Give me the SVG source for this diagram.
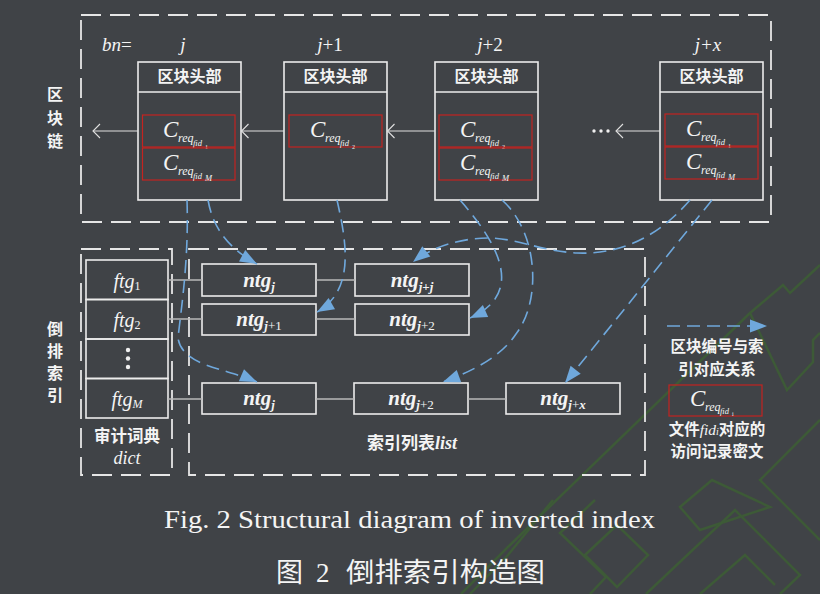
<svg xmlns="http://www.w3.org/2000/svg" width="820" height="594" viewBox="0 0 820 594">
<style>
.bg{fill:#404347}
.deco{fill:none;stroke:#3d5a37;stroke-width:2.5}
.box{fill:none;stroke:#ececec;stroke-width:1.6}
.dash{fill:none;stroke:#e6e6e6;stroke-width:1.8;stroke-dasharray:20 9}
.red{fill:none;stroke:#c42420;stroke-width:1.2}
.link{stroke:#b8b8b8;stroke-width:1.5}
.arr{stroke:#e0e0e0;stroke-width:1.1;fill:none;marker-end:url(#open)}
.blue{fill:none;stroke:#6fa8dc;stroke-width:1.6;stroke-dasharray:13 7;marker-end:url(#tri)}
.cjk{font-family:"Noto Sans CJK SC","Noto Sans",sans-serif;fill:#f4f4f4;font-weight:bold}
.m{font-family:"Liberation Serif","Noto Sans CJK SC",serif;font-style:italic;fill:#f4f4f4}
.up{font-style:normal}
.hd{font-size:16px;text-anchor:middle}
.C{font-size:23px}
.rq{font-size:12px}
.fd{font-size:8.5px}
.fs{font-size:6px;font-style:normal}
.nt{font-size:21px;font-weight:bold;text-anchor:middle}
.ntsub{font-size:13px}
.ft{font-size:20px;text-anchor:middle}
.lg{font-size:15.5px;text-anchor:middle}
.side{font-size:16px;text-anchor:middle}
.cap{font-family:"Liberation Serif","Noto Sans CJK SC",serif;fill:#f4f4f4;font-weight:normal}
</style>
<defs>
<marker id="open" markerUnits="userSpaceOnUse" viewBox="-9 -9 10 18" markerWidth="10" markerHeight="18" refX="0" refY="0" orient="auto" overflow="visible">
<path d="M-7,-7 L0,0 L-7,7" fill="none" stroke="#e0e0e0" stroke-width="1.1"/>
</marker>
<marker id="tri" markerUnits="userSpaceOnUse" viewBox="-17 -8 18 16" markerWidth="18" markerHeight="16" refX="0" refY="0" orient="auto" overflow="visible">
<path d="M-17,-6.5 L0,0 L-17,6.5 Z" fill="#6fa8dc"/>
</marker>
</defs>
<rect class="bg" x="0" y="0" width="820" height="594"/>
<g id="decoration">
<polyline class="deco" points="461,594 510,545 750,313 783,285 790,293 820,265"/>
<polyline class="deco" points="750,313 787,390 813,362 813,340 820,333"/>
<polyline class="deco" points="553,500 508,555 470,594"/>
<polyline class="deco" points="595,500 560,533 606,577 590,594"/>
<polygon class="deco" points="585,555 617,525 648,555 617,587"/>
<polygon class="deco" points="680,507 712,480 770,507 700,530"/>
<polyline class="deco" points="820,420 760,480 820,540"/>
<polyline class="deco" points="646,594 735,510 800,575 780,594"/>
<polyline class="deco" points="700,594 745,555 775,585"/>
</g>
<g id="frames">
<rect class="dash" x="81" y="15" width="690" height="207"/>
<rect class="dash" x="81" y="249" width="91" height="226"/>
<rect class="dash" x="189" y="249" width="456" height="226"/>
</g>
<g id="side-labels">
<text class="cjk side" x="55" y="100">区</text>
<text class="cjk side" x="55" y="124">块</text>
<text class="cjk side" x="55" y="147">链</text>
<text class="cjk side" x="55" y="335">倒</text>
<text class="cjk side" x="55" y="357">排</text>
<text class="cjk side" x="55" y="379">索</text>
<text class="cjk side" x="55" y="401">引</text>
</g>
<g id="bn-labels">
<text class="m" x="102" y="51" font-size="19">bn<tspan class="up">=</tspan></text>
<text class="m" x="183" y="51" font-size="19" text-anchor="middle">j</text>
<text class="m" x="330" y="51" font-size="19" text-anchor="middle">j<tspan class="up">+1</tspan></text>
<text class="m" x="490" y="51" font-size="19" text-anchor="middle">j<tspan class="up">+2</tspan></text>
<text class="m" x="708" y="51" font-size="19" text-anchor="middle">j+x</text>
</g>
<g id="block-j">
<rect class="box" x="138" y="62" width="103" height="138"/>
<line class="box" x1="138" y1="92" x2="241" y2="92"/>
<text class="cjk hd" x="189.5" y="82">区块头部</text>
<rect class="red" x="142.5" y="115" width="92.5" height="32"/>
<text class="m C" x="163" y="137">C</text><text class="m rq" x="178" y="142">req</text><text class="m fd" x="193" y="146">fid</text><text class="m fs" x="205" y="149">1</text>
<rect class="red" x="142.5" y="148" width="92.5" height="32"/>
<text class="m C" x="163" y="170">C</text><text class="m rq" x="178" y="175">req</text><text class="m fd" x="193" y="179">fid</text><text class="m fd" x="205" y="181">M</text>
</g>
<g id="block-j1">
<rect class="box" x="284" y="62" width="103" height="138"/>
<line class="box" x1="284" y1="92" x2="387" y2="92"/>
<text class="cjk hd" x="335.5" y="82">区块头部</text>
<rect class="red" x="289" y="115" width="93" height="32"/>
<text class="m C" x="310" y="137">C</text><text class="m rq" x="325" y="142">req</text><text class="m fd" x="340" y="146">fid</text><text class="m fs" x="352" y="149">2</text>
</g>
<g id="block-j2">
<rect class="box" x="435" y="62" width="103" height="138"/>
<line class="box" x1="435" y1="92" x2="538" y2="92"/>
<text class="cjk hd" x="486.5" y="82">区块头部</text>
<rect class="red" x="439" y="115" width="93" height="32"/>
<text class="m C" x="460" y="137">C</text><text class="m rq" x="475" y="142">req</text><text class="m fd" x="490" y="146">fid</text><text class="m fs" x="502" y="149">2</text>
<rect class="red" x="439" y="148" width="93" height="32"/>
<text class="m C" x="460" y="170">C</text><text class="m rq" x="475" y="175">req</text><text class="m fd" x="490" y="179">fid</text><text class="m fd" x="502" y="181">M</text>
</g>
<g id="block-jx">
<rect class="box" x="660" y="62" width="103" height="138"/>
<line class="box" x1="660" y1="92" x2="763" y2="92"/>
<text class="cjk hd" x="711.5" y="82">区块头部</text>
<rect class="red" x="665" y="114" width="93" height="32"/>
<text class="m C" x="686" y="136">C</text><text class="m rq" x="701" y="141">req</text><text class="m fd" x="716" y="145">fid</text><text class="m fs" x="728" y="148">1</text>
<rect class="red" x="665" y="147" width="93" height="32"/>
<text class="m C" x="686" y="169">C</text><text class="m rq" x="701" y="174">req</text><text class="m fd" x="716" y="178">fid</text><text class="m fd" x="728" y="180">M</text>
</g>
<g id="ellipsis">
<circle cx="594" cy="131" r="1.7" fill="#f0f0f0"/>
<circle cx="601" cy="131" r="1.7" fill="#f0f0f0"/>
<circle cx="608" cy="131" r="1.7" fill="#f0f0f0"/>
</g>
<g id="dict">
<rect class="box" x="86" y="260" width="82" height="39.5"/>
<rect class="box" x="86" y="299.5" width="82" height="39.5"/>
<rect class="box" x="86" y="339" width="82" height="39.5"/>
<rect class="box" x="86" y="378.5" width="82" height="39.5"/>
<text class="m ft" x="127" y="288">ftg<tspan class="up" font-size="12" dy="2">1</tspan></text>
<text class="m ft" x="127" y="327">ftg<tspan class="up" font-size="12" dy="2">2</tspan></text>
<circle cx="128" cy="350" r="2.2" fill="#f0f0f0"/>
<circle cx="128" cy="358.5" r="2.2" fill="#f0f0f0"/>
<circle cx="128" cy="367" r="2.2" fill="#f0f0f0"/>
<text class="m ft" x="127" y="406">ftg<tspan font-size="12" dy="2">M</tspan></text>
<text class="cjk" x="127" y="442" font-size="16.5" text-anchor="middle" font-weight="normal">审计词典</text>
<text class="m" x="127" y="464" font-size="18" text-anchor="middle">dict</text>
</g>
<g id="ntg-r1c1"><rect class="box" x="202" y="264" width="114" height="32"/><text class="m nt" x="259" y="287">ntg<tspan class="ntsub" dy="4">j</tspan></text></g>
<g id="ntg-r1c2"><rect class="box" x="355" y="264" width="114" height="32"/><text class="m nt" x="412" y="287">ntg<tspan class="ntsub" dy="4">j<tspan class="up">+</tspan>j</tspan></text></g>
<g id="ntg-r2c1"><rect class="box" x="202" y="304" width="114" height="31"/><text class="m nt" x="259" y="326">ntg<tspan class="ntsub" dy="4">j<tspan class="up" font-weight="normal">+1</tspan></tspan></text></g>
<g id="ntg-r2c2"><rect class="box" x="355" y="304" width="114" height="31"/><text class="m nt" x="412" y="326">ntg<tspan class="ntsub" dy="4">j<tspan class="up" font-weight="normal">+2</tspan></tspan></text></g>
<g id="ntg-r3c1"><rect class="box" x="202" y="383" width="114" height="31"/><text class="m nt" x="259" y="405">ntg<tspan class="ntsub" dy="4">j</tspan></text></g>
<g id="ntg-r3c2"><rect class="box" x="354" y="383" width="114" height="31"/><text class="m nt" x="411" y="405">ntg<tspan class="ntsub" dy="4">j<tspan class="up" font-weight="normal">+2</tspan></tspan></text></g>
<g id="ntg-r3c3"><rect class="box" x="506" y="383" width="114" height="31"/><text class="m nt" x="563" y="405">ntg<tspan class="ntsub" dy="4">j<tspan class="up" font-weight="normal">+</tspan>x</tspan></text></g>
<g id="list-label">
<text class="cjk" x="412" y="449" font-size="17" text-anchor="middle" font-weight="normal">索引列表<tspan class="m" font-size="18">list</tspan></text>
</g>
<g id="connectors">
<line class="arr" x1="138" y1="131" x2="93" y2="131"/>
<line class="arr" x1="284" y1="131" x2="241.5" y2="131"/>
<line class="arr" x1="435" y1="131" x2="387.5" y2="131"/>
<line class="arr" x1="660" y1="131" x2="616" y2="131"/>
<line class="link" x1="168" y1="280" x2="202" y2="280"/>
<line class="link" x1="316" y1="280" x2="355" y2="280"/>
<line class="link" x1="168" y1="319" x2="202" y2="319"/>
<line class="link" x1="316" y1="319" x2="355" y2="319"/>
<line class="link" x1="168" y1="399" x2="202" y2="399"/>
<line class="link" x1="316" y1="399" x2="354" y2="399"/>
<line class="link" x1="468" y1="399" x2="506" y2="399"/>
<path class="blue" d="M208,200 C213,228 228,248 257,264"/>
<path class="blue" d="M187,200 C189,260 181,310 178,338 C182,366 225,368 257,382"/>
<path class="blue" d="M337,200 C346,240 356,290 317,312"/>
<path class="blue" d="M460,200 C495,240 528,292 470,318"/>
<path class="blue" d="M502,200 C538,232 542,300 516,334 C500,358 470,372 443,382"/>
<path class="blue" d="M690,200 C660,235 622,255 577,253 C540,251 520,239 490,238 C460,238 432,247 413,262"/>
<path class="blue" d="M712,200 L565,383"/>
</g>
<g id="legend">
<path class="blue" d="M667,326 L767,326"/>
<text class="cjk lg" x="717" y="352">区块编号与索</text>
<text class="cjk lg" x="717" y="375">引对应关系</text>
<rect class="red" x="669" y="385" width="93" height="31"/>
<text class="m C" x="690" y="406">C</text><text class="m rq" x="705" y="411">req</text><text class="m fd" x="720" y="414">fid</text><text class="m fs" x="732" y="416">i</text>
<text class="cjk lg" x="717" y="435">文件<tspan class="m" font-weight="normal">fid<tspan font-size="10">i</tspan></tspan>对应的</text>
<text class="cjk lg" x="717" y="457">访问记录密文</text>
</g>
<g id="caption">
<text class="cap" x="164" y="528" font-size="25" textLength="491" lengthAdjust="spacingAndGlyphs">Fig. 2 Structural diagram of inverted index</text>
<text class="cap" x="276" y="582" font-size="27">图</text>
<text class="cap" x="316" y="582" font-size="27">2</text>
<text class="cap" x="346" y="582" font-size="27" textLength="199" lengthAdjust="spacingAndGlyphs">倒排索引构造图</text>
</g>
</svg>
